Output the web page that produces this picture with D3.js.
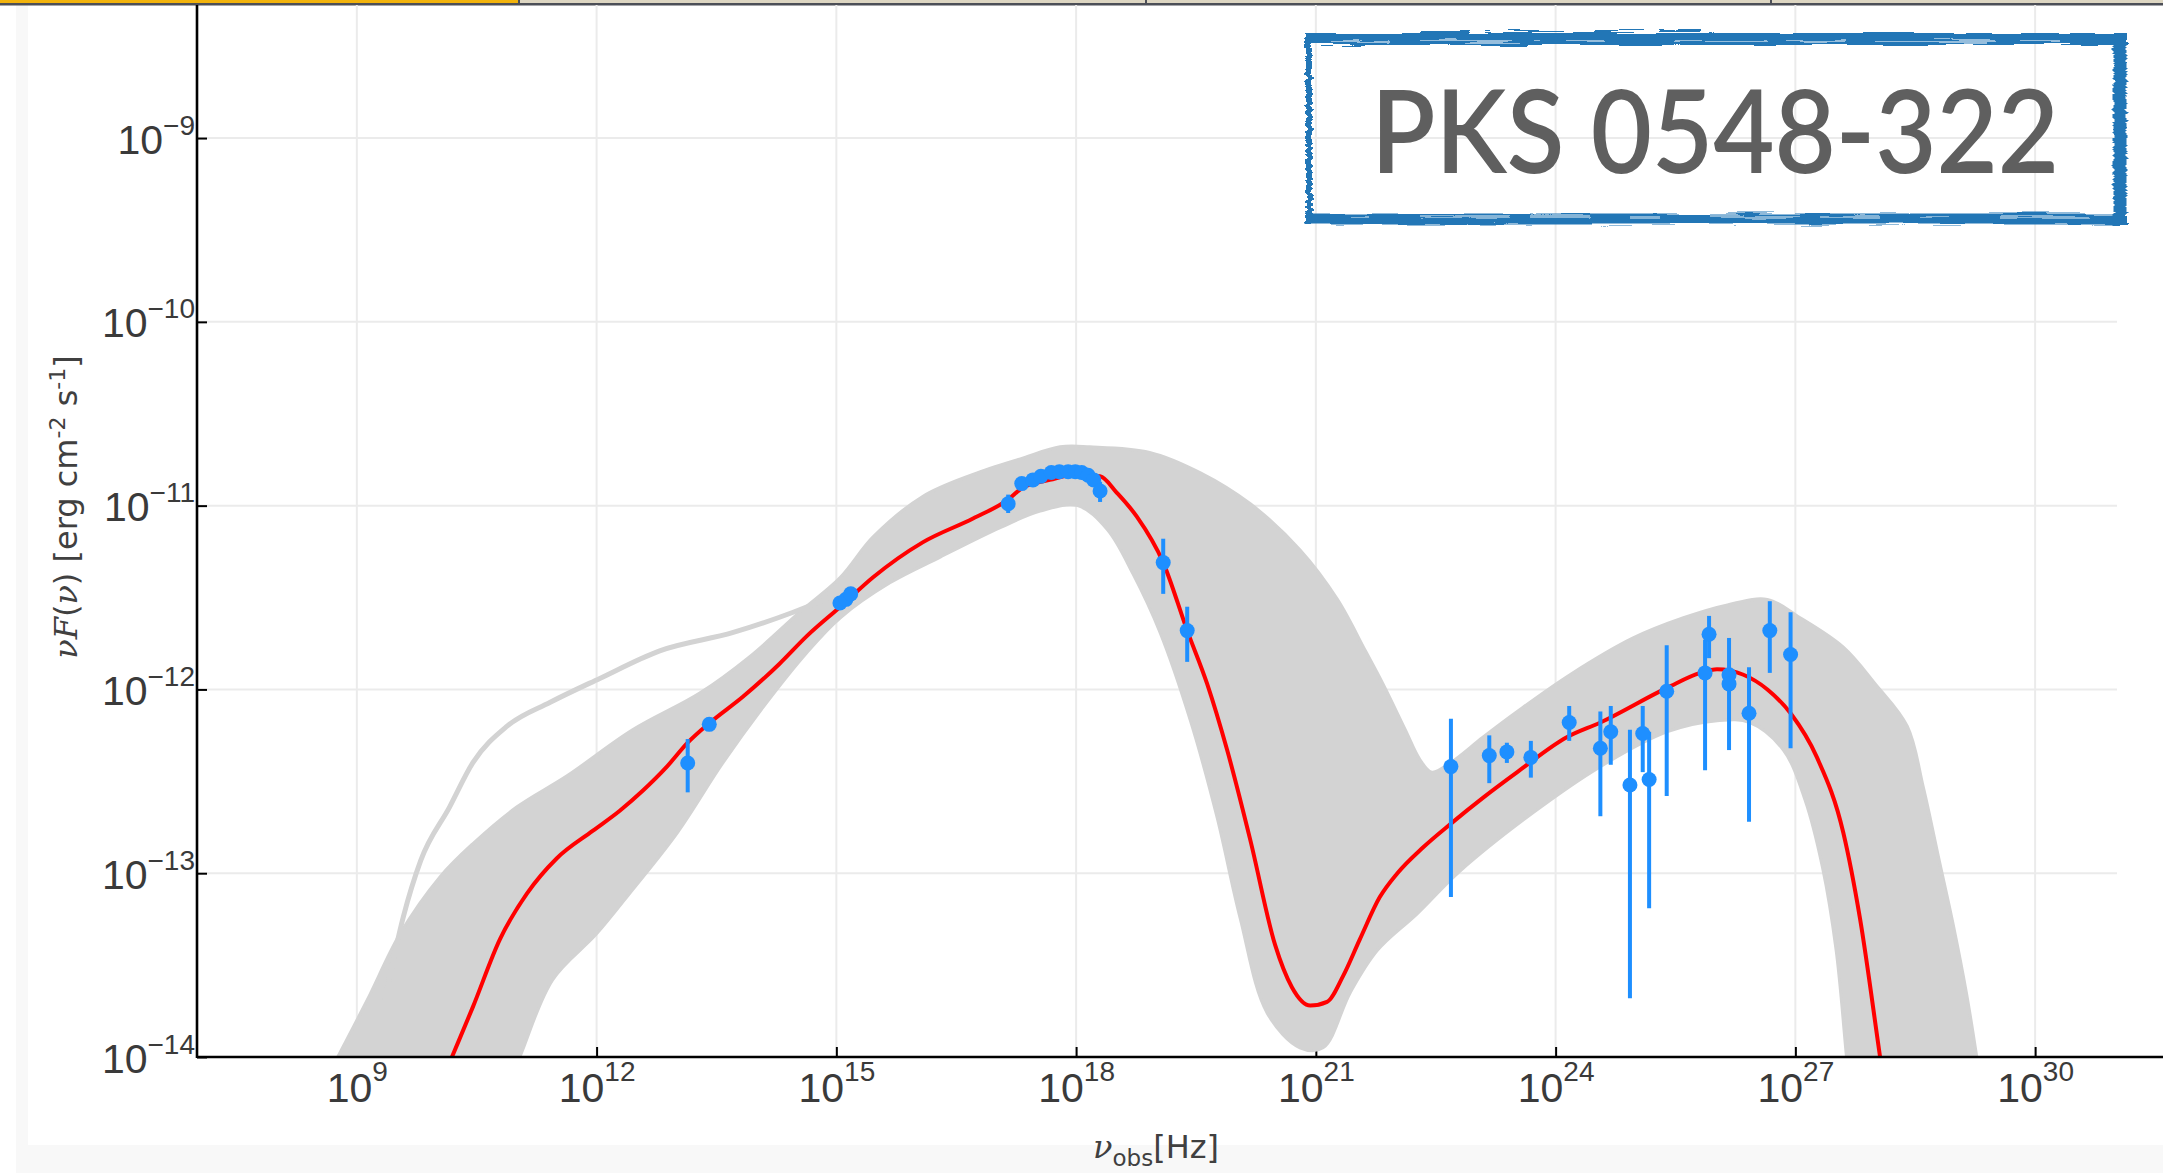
<!DOCTYPE html>
<html>
<head>
<meta charset="utf-8">
<script src="https://cdn.jsdelivr.net/npm/d3@7"></script>
<style>
  html, body { margin: 0; padding: 0; background: #fff; }
  svg { display: block; }
</style>
</head>
<body>
<svg id="chart" width="2163" height="1173"></svg>
<script>
// Spectral energy distribution of PKS 0548-322.
// All values are log10(nu / Hz) and log10(nu F(nu) / erg cm^-2 s^-1).

const xTickExponents = [9, 12, 15, 18, 21, 24, 27, 30];
const yTickExponents = [-14, -13, -12, -11, -10, -9];

// Envelope of the sampled model curves: upper edge (low -> high nu)
const bandUpper = [
  [8.40,-14.30],[8.76,-14.00],[9.13,-13.69],[9.54,-13.33],[10.04,-13.02],[10.45,-12.84],
  [11.00,-12.64],[11.63,-12.47],[12.45,-12.22],[13.29,-12.02],[13.92,-11.82],[14.54,-11.58],
  [15.05,-11.39],[15.46,-11.17],[16.08,-10.95],[16.71,-10.83],[17.34,-10.74],[17.80,-10.68],
  [18.17,-10.68],[18.92,-10.71],[19.55,-10.82],[20.18,-10.99],[20.80,-11.24],[21.27,-11.51],
  [21.62,-11.79],[21.84,-11.97],[22.12,-12.22],[22.30,-12.38],[22.45,-12.45],[22.68,-12.40],
  [23.09,-12.26],[23.52,-12.12],[24.18,-11.92],[24.97,-11.72],[25.60,-11.61],[26.15,-11.54],
  [26.65,-11.51],[27.06,-11.61],[27.60,-11.77],[28.00,-11.97],[28.40,-12.20],[28.60,-12.53],
  [28.80,-12.93],[28.98,-13.29],[29.14,-13.65],[29.27,-14.00],[29.37,-14.30]
];
// ... and lower edge (high -> low nu)
const bandLower = [
  [27.71,-14.30],[27.64,-14.00],[27.51,-13.42],[27.34,-12.97],[27.12,-12.60],[26.85,-12.33],
  [26.43,-12.18],[26.02,-12.17],[25.40,-12.23],[24.56,-12.42],[23.72,-12.67],[22.80,-12.99],
  [22.27,-13.22],[21.77,-13.42],[21.43,-13.65],[21.09,-13.95],[20.80,-13.95],[20.39,-13.76],
  [20.05,-13.24],[19.76,-12.69],[19.43,-12.17],[19.05,-11.69],[18.71,-11.37],[18.39,-11.13],
  [18.02,-11.00],[17.55,-11.03],[17.05,-11.12],[16.30,-11.28],[15.67,-11.42],[15.05,-11.61],
  [14.63,-11.80],[14.13,-12.07],[13.58,-12.40],[13.01,-12.78],[12.45,-13.09],[12.00,-13.33],
  [11.45,-13.58],[11.04,-14.00],[10.75,-14.30]
];
// A single sampled curve that stands apart at low frequencies
const outlierCurve = [
  [9.35,-13.69],[9.58,-13.24],[9.80,-12.93],[10.16,-12.64],[10.45,-12.40],[10.88,-12.20],
  [11.42,-12.07],[12.04,-11.94],[12.79,-11.79],[13.71,-11.69],[14.46,-11.58],[14.92,-11.50]
];
// Best-fit model
const bestFit = [
  [9.90,-14.30],[10.19,-14.00],[10.45,-13.73],[10.79,-13.36],[11.13,-13.11],[11.50,-12.92],
  [11.95,-12.77],[12.29,-12.66],[12.58,-12.55],[12.88,-12.42],[13.14,-12.29],[13.42,-12.18],
  [13.83,-12.04],[14.29,-11.86],[14.63,-11.71],[15.05,-11.55],[15.46,-11.39],[16.08,-11.20],
  [16.71,-11.07],[17.14,-10.97],[17.34,-10.90],[17.67,-10.86],[17.99,-10.83],[18.30,-10.84],
  [18.51,-10.93],[18.76,-11.06],[19.09,-11.31],[19.39,-11.68],[19.64,-11.97],[19.89,-12.33],
  [20.18,-12.82],[20.49,-13.39],[20.70,-13.62],[20.93,-13.72],[21.14,-13.70],[21.34,-13.56],
  [21.55,-13.36],[21.80,-13.13],[22.02,-13.00],[22.34,-12.86],[22.69,-12.73],[23.09,-12.59],
  [23.52,-12.45],[24.14,-12.26],[24.56,-12.18],[25.40,-11.99],[25.81,-11.91],[26.02,-11.89],
  [26.35,-11.92],[26.65,-12.00],[26.94,-12.13],[27.27,-12.37],[27.60,-12.78],[27.81,-13.25],
  [28.06,-14.00],[28.16,-14.30]
];

// Observations: [log nu, log nuFnu, log lower, log upper] (null = no error bar)
const radioOpticalPts = [
  [13.14,-12.40,-12.56,-12.27],
  [13.41,-12.19,null,null],
  [15.045,-11.53,null,null],
  [15.12,-11.51,null,null],
  [15.18,-11.48,null,null]
];
const xrayPts = [
  [17.15,-10.99,-11.04,-10.94],
  [17.32,-10.88,null,null],
  [17.46,-10.86,null,null],
  [17.56,-10.84,null,null],
  [17.69,-10.82,null,null],
  [17.79,-10.815,null,null],
  [17.90,-10.815,null,null],
  [17.99,-10.815,null,null],
  [18.07,-10.82,null,null],
  [18.15,-10.835,null,null],
  [18.22,-10.86,null,null],
  [18.30,-10.92,-10.98,-10.87],
  [19.09,-11.31,-11.48,-11.18],
  [19.39,-11.68,-11.85,-11.55]
];
const gammaPts = [
  [22.69,-12.42,-13.13,-12.16],
  [23.17,-12.36,-12.51,-12.25],
  [23.39,-12.34,-12.40,-12.29],
  [23.69,-12.37,-12.48,-12.28],
  [24.17,-12.18,-12.28,-12.09],
  [24.56,-12.32,-12.69,-12.12],
  [24.69,-12.23,-12.41,-12.09],
  [24.93,-12.52,-13.68,-12.22],
  [25.09,-12.24,-12.45,-12.09],
  [25.17,-12.49,-13.19,-12.23],
  [25.39,-12.01,-12.58,-11.76],
  [25.87,-11.91,-12.44,-11.73],
  [25.92,-11.70,-11.83,-11.60],
  [26.17,-11.92,-12.33,-11.72],
  [26.17,-11.97,null,null],
  [26.42,-12.13,-12.72,-11.88],
  [26.68,-11.68,-11.91,-11.52],
  [26.94,-11.81,-12.32,-11.58]
];
const sourceName = "PKS 0548-322";

// ---------------------------------------------------------------------------
const W = 2163, H = 1173;
const plotLeft = 197, gridRight = 2117, plotTop = 5, plotBottom = 1057;
const P = v => Math.pow(10, v);

const x = d3.scaleLog().domain([1e7, P(31.6)]).range([plotLeft, W]);
const y = d3.scaleLog().domain([1e-14, P(-8.276)]).range([plotBottom, plotTop]);

const svg = d3.select("#chart");
const defs = svg.append("defs");

defs.append("clipPath").attr("id", "plotClip")
  .append("rect").attr("x", plotLeft).attr("y", plotTop)
  .attr("width", W - plotLeft).attr("height", plotBottom - plotTop);

// brush-like roughness for the name plate
const rough = defs.append("filter").attr("id", "rough")
  .attr("x", "-5%").attr("y", "-30%").attr("width", "110%").attr("height", "160%");
rough.append("feTurbulence").attr("type", "fractalNoise")
  .attr("baseFrequency", "0.015 0.35").attr("numOctaves", 2).attr("seed", 7).attr("result", "noise");
rough.append("feDisplacementMap").attr("in", "SourceGraphic").attr("in2", "noise")
  .attr("scale", 7).attr("xChannelSelector", "R").attr("yChannelSelector", "G");

// page panels
svg.append("rect").attr("x", 16).attr("y", 5).attr("width", W - 16).attr("height", H - 5).attr("fill", "#f8f8f8");
svg.append("rect").attr("x", 28).attr("y", 5).attr("width", W - 28).attr("height", 1140).attr("fill", "#ffffff");

// window strip along the top
svg.append("rect").attr("x", 0).attr("y", 0).attr("width", W).attr("height", 3).attr("fill", "#ddd6c2");
svg.append("rect").attr("x", 0).attr("y", 0).attr("width", 519).attr("height", 3).attr("fill", "#f2b30c");
svg.append("rect").attr("x", 0).attr("y", 3).attr("width", W).attr("height", 2.5).attr("fill", "#4c4f57");
[519, 1146, 1771].forEach(sx => {
  svg.append("rect").attr("x", sx - 1).attr("y", 0).attr("width", 2).attr("height", 4).attr("fill", "#4c4f57");
});

// grid
const grid = svg.append("g").attr("stroke", "#ebebeb").attr("stroke-width", 2);
grid.selectAll("line.v").data(xTickExponents).join("line").attr("class", "v")
  .attr("x1", d => x(P(d))).attr("x2", d => x(P(d)))
  .attr("y1", plotTop).attr("y2", plotBottom);
grid.selectAll("line.h").data(yTickExponents).join("line").attr("class", "h")
  .attr("x1", plotLeft).attr("x2", gridRight)
  .attr("y1", d => y(P(d))).attr("y2", d => y(P(d)));

// axes (ticks point inward)
const expText = e => (e < 0 ? "\u2212" + Math.abs(e) : String(e));
const tickFont = "'Liberation Sans', Arial, Helvetica, sans-serif";

const gx = svg.append("g").attr("transform", `translate(0,${plotBottom})`)
  .call(d3.axisBottom(x).tickValues(xTickExponents.map(P))
    .tickSizeInner(-10).tickSizeOuter(0).tickPadding(0));
gx.select(".domain").remove();
gx.attr("font-family", tickFont).attr("font-size", 41);
gx.selectAll(".tick line").attr("stroke", "#000").attr("stroke-width", 2);
gx.selectAll(".tick text").each(function (d) {
  const e = Math.round(Math.log10(d));
  const t = d3.select(this).text(null).attr("y", 45).attr("dy", null).attr("fill", "#3a3a3a");
  t.append("tspan").text("10");
  t.append("tspan").attr("dy", -21).attr("font-size", 28).text(expText(e));
});

const gy = svg.append("g").attr("transform", `translate(${plotLeft},0)`)
  .call(d3.axisLeft(y).tickValues(yTickExponents.map(P))
    .tickSizeInner(-10).tickSizeOuter(0).tickPadding(2));
gy.select(".domain").remove();
gy.attr("font-family", tickFont).attr("font-size", 41);
gy.selectAll(".tick line").attr("stroke", "#000").attr("stroke-width", 2);
gy.selectAll(".tick text").each(function (d) {
  const e = Math.round(Math.log10(d));
  const t = d3.select(this).text(null).attr("y", 15).attr("dy", null).attr("fill", "#3a3a3a");
  t.append("tspan").text("10");
  t.append("tspan").attr("dy", -19).attr("font-size", 28).text(expText(e));
});

// model band, outlier, best fit
const plot = svg.append("g").attr("clip-path", "url(#plotClip)");
const px = d => x(P(d[0])), py = d => y(P(d[1]));

plot.append("path")
  .datum(bandUpper.concat(bandLower))
  .attr("d", d3.line().x(px).y(py).curve(d3.curveCatmullRomClosed.alpha(0.5)))
  .attr("fill", "#d3d3d3").attr("stroke", "#d3d3d3").attr("stroke-width", 3);

plot.append("path")
  .datum(outlierCurve)
  .attr("d", d3.line().x(px).y(py).curve(d3.curveMonotoneX))
  .attr("fill", "none").attr("stroke", "#d3d3d3").attr("stroke-width", 5);

plot.append("path")
  .datum(bestFit)
  .attr("d", d3.line().x(px).y(py).curve(d3.curveMonotoneX))
  .attr("fill", "none").attr("stroke", "#ff0000").attr("stroke-width", 4);

// observations
const allPts = radioOpticalPts.concat(xrayPts, gammaPts);
const ptColor = "#1e8fff";
plot.append("g").selectAll("line").data(allPts.filter(d => d[2] !== null)).join("line")
  .attr("x1", px).attr("x2", px)
  .attr("y1", d => y(P(d[2]))).attr("y2", d => y(P(d[3])))
  .attr("stroke", ptColor).attr("stroke-width", 4);
plot.append("g").selectAll("circle").data(allPts).join("circle")
  .attr("cx", px).attr("cy", py).attr("r", 7.5).attr("fill", ptColor);

// axis lines
svg.append("line").attr("x1", plotLeft).attr("x2", W).attr("y1", plotBottom).attr("y2", plotBottom)
  .attr("stroke", "#000").attr("stroke-width", 2.6);
svg.append("line").attr("x1", plotLeft).attr("x2", plotLeft).attr("y1", plotTop).attr("y2", plotBottom + 1)
  .attr("stroke", "#000").attr("stroke-width", 2.6);

// axis titles
const labelFont = "'DejaVu Sans', 'Open Sans', sans-serif";
const mathFont = "'DejaVu Serif', serif";
const yl = svg.append("text")
  .attr("transform", "translate(77,507) rotate(-90)")
  .attr("text-anchor", "middle").attr("font-family", labelFont).attr("font-size", 32)
  .attr("fill", "#404040");
yl.append("tspan").attr("font-family", mathFont).attr("font-style", "italic").text("\u03bdF");
yl.append("tspan").text("(");
yl.append("tspan").attr("font-family", mathFont).attr("font-style", "italic").text("\u03bd");
yl.append("tspan").text(") [erg cm");
yl.append("tspan").attr("dy", -12).attr("font-size", 22).text("-2");
yl.append("tspan").attr("dy", 12).text(" s");
yl.append("tspan").attr("dy", -12).attr("font-size", 22).text("-1");
yl.append("tspan").attr("dy", 12).text("]");

const xl = svg.append("text")
  .attr("x", 1156).attr("y", 1158)
  .attr("text-anchor", "middle").attr("font-family", labelFont).attr("font-size", 32)
  .attr("fill", "#404040");
xl.append("tspan").attr("font-family", mathFont).attr("font-style", "italic").text("\u03bd");
xl.append("tspan").attr("dy", 8).attr("font-size", 23).text("obs");
xl.append("tspan").attr("dy", -8).text("[Hz]");

// name plate
const plateColor = "#2176b6";
const plate = svg.append("g").attr("filter", "url(#rough)");
plate.append("line").attr("x1", 1305).attr("x2", 2127).attr("y1", 39).attr("y2", 39)
  .attr("stroke", plateColor).attr("stroke-width", 12);
plate.append("line").attr("x1", 1305).attr("x2", 2127).attr("y1", 219).attr("y2", 219)
  .attr("stroke", plateColor).attr("stroke-width", 11);
plate.append("line").attr("x1", 1309).attr("x2", 1309).attr("y1", 36).attr("y2", 225)
  .attr("stroke", plateColor).attr("stroke-width", 6);
plate.append("line").attr("x1", 2120).attr("x2", 2120).attr("y1", 33).attr("y2", 225)
  .attr("stroke", plateColor).attr("stroke-width", 13);
plate.append("line").attr("x1", 1330).attr("x2", 2110).attr("y1", 41).attr("y2", 41)
  .attr("stroke", "#fff").attr("stroke-width", 1.5).attr("stroke-dasharray", "60 30 120 25 40 70 90 20")
  .attr("opacity", 0.7);
plate.append("line").attr("x1", 1340).attr("x2", 2100).attr("y1", 217).attr("y2", 217)
  .attr("stroke", "#fff").attr("stroke-width", 1.5).attr("stroke-dasharray", "30 50 90 20 60 40")
  .attr("opacity", 0.6);
plate.append("line").attr("x1", 1420).attr("x2", 1700).attr("y1", 31).attr("y2", 31)
  .attr("stroke", plateColor).attr("stroke-width", 2).attr("stroke-dasharray", "50 15 80 30");

svg.append("text")
  .attr("x", 1371).attr("y", 173)
  .attr("font-family", "Lato, 'Open Sans', sans-serif").attr("font-weight", 600)
  .attr("font-size", 116).attr("fill", "#5f5f5f")
  .attr("textLength", 688).attr("lengthAdjust", "spacingAndGlyphs")
  .text(sourceName);
</script>
</body>
</html>
